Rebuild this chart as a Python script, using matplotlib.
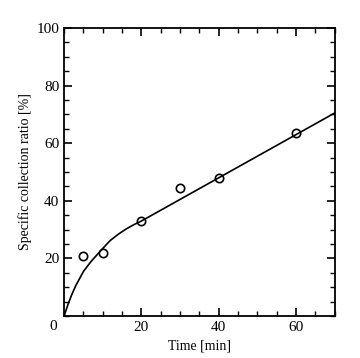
import matplotlib.pyplot as plt
from matplotlib.ticker import MultipleLocator

plt.rcParams['font.family'] = ['Liberation Serif', 'DejaVu Serif']

# measured points
time_pts = [5, 10, 20, 30, 40, 60]
ratio_pts = [21, 22, 33, 44.5, 48, 63.5]

# fitted curve
time_fit = [0, 1, 2, 3, 5, 7, 10, 12, 14, 16, 18, 20, 30, 40, 50, 60, 70]
ratio_fit = [0, 4, 7.5, 10.5, 15.5, 19, 23.5, 26.3, 28.4, 30.2, 31.7, 33, 40.5, 48, 55.5, 63, 70.5]

fig = plt.figure(figsize=(3.6, 3.58), dpi=100)
ax = fig.add_axes([0.178, 0.117, 0.752, 0.805])

ax.plot(time_fit, ratio_fit, color='black', lw=1.2)
ax.plot(time_pts, ratio_pts, 'o', mfc='none', mec='black', ms=6, mew=1.2)

ax.set_xlim(0, 70)
ax.set_ylim(0, 100)
ax.xaxis.set_major_locator(MultipleLocator(20))
ax.xaxis.set_minor_locator(MultipleLocator(5))
ax.yaxis.set_major_locator(MultipleLocator(20))
ax.yaxis.set_minor_locator(MultipleLocator(5))
ax.tick_params(which='both', direction='in', top=True, right=True, labelsize=11)
ax.tick_params(which='major', length=6, width=1.2)
ax.tick_params(which='minor', length=3.5, width=1.0)
for s in ax.spines.values():
    s.set_linewidth(1.3)

ax.set_xticks([20, 40, 60])
ax.set_yticks([20, 40, 60, 80, 100])
ax.text(-0.025, -0.012, '0', transform=ax.transAxes, ha='right', va='top', fontsize=11)

ax.set_xlabel('Time [min]', fontsize=10, labelpad=4)
ax.set_ylabel('Specific collection ratio [%]', fontsize=10, labelpad=3)

fig.savefig('out.png', dpi=100)
